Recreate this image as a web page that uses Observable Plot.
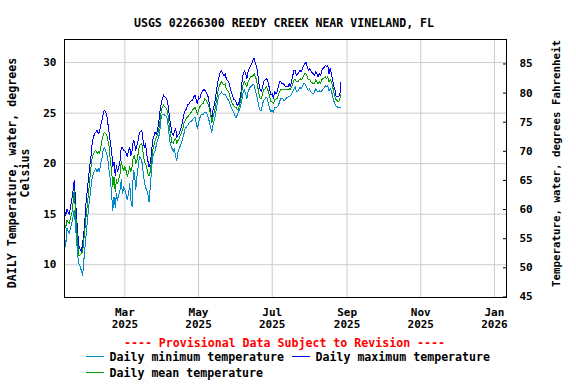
<!DOCTYPE html>
<html><head><meta charset="utf-8">
<script src="https://cdn.jsdelivr.net/npm/d3@7"></script>
<script src="https://cdn.jsdelivr.net/npm/@observablehq/plot@0.6"></script>
<style>
body{margin:0;background:#fff;}
#chart{position:relative;width:576px;height:384px;}
#chart svg{position:absolute;left:0;top:0;}
</style></head><body><div id="chart"></div>
<script>
const title = "USGS 02266300 REEDY CREEK NEAR VINELAND, FL";
const provisionalNote = "---- Provisional Data Subject to Revision ----";
const leftLabel = ["DAILY Temperature, water, degrees", "Celsius"];
const rightLabel = "Temperature, water, degrees Fahrenheit";
const startDate = "2025-01-10";
const xDomain = ["2025-01-10", "2026-01-11"];
const celsiusDomain = [6.76, 32.28];
const fahrenheitDomain = [44.9, 89.2];
const celsiusTicks = [10, 15, 20, 25, 30];
const fahrenheitTicks = [45, 50, 55, 60, 65, 70, 75, 80, 85];
const monthTicks = ["2025-03-01", "2025-05-01", "2025-07-01", "2025-09-01", "2025-11-01", "2026-01-01"];
const seriesNames = ["Daily minimum temperature", "Daily maximum temperature", "Daily mean temperature"];
const seriesColors = ["#0088cc", "#0000ff", "#00a000"];

const dailyMax = [
15.4,14.9,15.5,15.2,15.0,15.7,16.4,17.2,18.3,16.7,14.7,13.1,11.8,11.5,11.3,12.1,13.1,14.7,16.4,17.5,
18.7,19.8,20.8,22.1,22.6,23.0,23.1,23.3,23.0,23.1,23.8,24.3,24.9,25.3,25.1,24.8,23.9,23.0,22.1,21.3,
19.7,20.2,18.8,19.8,19.2,19.7,20.3,21.6,21.6,21.3,21.3,21.0,20.7,21.3,21.6,20.8,21.3,
22.3,22.1,21.3,21.8,22.3,23.1,23.2,23.3,22.3,21.6,22.0,21.0,20.3,19.7,20.0,21.0,22.3,22.7,23.1,22.9,
23.3,24.0,25.1,25.9,26.4,26.8,26.6,26.5,26.3,25.6,24.5,23.8,23.0,22.8,23.1,23.5,22.6,22.8,23.0,23.3,
23.8,24.3,24.9,25.3,25.4,25.9,25.9,26.1,26.2,26.3,26.6,26.8,26.3,25.9,26.6,26.4,26.9,27.1,27.3,
27.3,27.1,26.9,26.6,25.8,25.1,24.3,25.3,25.8,26.4,27.4,28.1,28.6,29.1,29.2,28.9,28.7,28.9,28.4,28.2,
28.1,27.6,27.1,26.8,26.4,26.3,26.1,25.8,25.8,26.3,26.9,28.1,28.9,29.2,28.9,28.4,29.1,29.4,29.7,29.9,
30.2,30.4,29.9,29.7,28.9,27.9,27.3,27.1,27.6,28.1,28.3,28.4,28.3,27.8,27.3,26.8,26.9,26.4,27.1,
26.9,27.1,27.6,28.1,28.1,27.9,27.9,27.8,27.6,27.6,27.6,27.9,27.6,28.1,28.7,29.2,29.2,28.7,28.9,29.0,
29.2,29.1,29.4,29.7,29.9,30.0,29.6,29.2,29.4,29.2,29.0,28.9,28.7,29.1,28.9,28.6,28.9,28.7,29.2,29.4,
29.5,29.7,29.6,29.7,28.9,29.4,28.9,28.3,27.6,27.3,26.6,26.6,26.6,26.8,28.1
];
const dailyMean = [
14.1,13.7,14.4,14.2,14.1,14.7,15.0,16.0,17.4,15.4,13.7,12.1,10.9,11.0,11.1,11.3,12.4,13.7,15.0,16.0,
17.2,18.5,19.7,20.7,21.0,21.2,21.3,21.0,21.2,21.0,21.6,22.3,22.8,23.1,23.0,22.8,22.3,21.6,20.3,19.3,
17.7,18.7,17.2,18.4,18.0,18.5,19.0,20.2,19.7,19.3,19.7,19.3,18.7,19.2,19.7,19.2,19.7,
20.7,20.8,20.0,20.3,21.0,21.8,21.9,22.0,21.2,20.3,20.0,19.7,19.0,18.8,19.2,20.3,21.3,21.8,22.3,22.6,
22.8,23.3,24.1,25.1,25.6,25.8,25.6,25.5,25.3,24.6,23.5,22.8,22.1,22.0,22.3,22.5,22.0,22.3,22.5,22.8,
23.1,23.5,24.0,24.3,24.5,24.6,24.8,24.9,25.1,25.3,25.4,25.6,25.3,24.9,25.3,25.6,25.8,25.9,26.0,
26.4,26.3,26.1,25.9,25.4,24.8,24.1,24.6,25.1,25.6,26.4,27.1,27.6,27.9,28.1,27.9,27.8,27.9,27.4,27.2,
27.1,26.6,26.3,25.9,25.8,25.6,25.6,25.4,25.4,25.8,26.3,27.3,27.9,28.1,27.9,27.6,28.1,28.3,28.6,28.6,
28.7,28.9,28.6,28.3,27.6,26.9,26.4,26.4,26.9,27.3,27.4,27.6,27.4,27.1,26.6,26.1,26.1,25.9,26.3,
26.4,26.4,26.8,27.1,27.3,27.3,27.4,27.3,27.3,27.3,27.3,27.4,27.3,27.6,27.9,28.3,28.3,28.1,28.1,28.2,
28.4,28.3,28.4,28.7,28.9,28.9,28.6,28.3,28.3,28.1,28.0,27.9,27.9,28.3,28.1,27.9,28.1,27.9,28.3,28.4,
28.5,28.6,28.4,28.6,28.1,28.3,28.1,27.6,27.1,26.6,26.3,26.2,26.1,26.4,26.9
];
const dailyMin = [
12.9,11.8,13.6,13.3,13.1,13.7,14.1,14.7,15.4,14.1,12.4,10.8,10.1,9.8,9.4,8.9,10.4,11.8,13.1,14.4,
15.7,16.7,17.7,18.7,19.0,19.3,19.5,19.2,19.5,19.2,20.0,20.5,21.3,21.6,21.3,21.0,20.3,19.2,18.4,17.0,
15.4,16.7,15.7,17.0,16.4,16.9,17.4,18.4,17.0,17.7,17.4,17.0,16.4,17.0,18.0,16.4,15.7,
19.3,19.0,17.4,18.7,19.7,20.7,20.5,20.3,19.3,18.3,17.7,17.4,17.0,16.2,17.7,19.3,20.7,21.0,21.3,21.8,
22.3,22.6,23.3,24.5,24.9,24.9,24.8,24.7,24.5,23.6,22.3,21.8,21.5,21.2,21.5,20.7,20.3,21.2,21.5,21.8,
22.1,22.6,23.0,23.5,23.6,23.8,24.0,24.1,24.2,24.3,24.5,24.6,24.1,23.5,24.0,24.5,24.8,24.9,24.9,
25.1,25.1,24.9,24.6,24.1,23.6,23.1,23.8,24.3,24.8,25.6,26.3,26.8,26.9,27.1,26.9,26.8,26.9,26.6,26.4,
26.3,25.9,25.6,25.3,25.1,24.8,24.5,24.8,25.1,25.4,25.8,26.4,27.1,27.3,26.9,26.4,27.1,27.4,27.6,27.7,
27.8,27.8,27.3,26.8,26.3,25.6,25.3,25.3,25.9,26.3,26.4,26.6,26.4,25.9,25.4,25.1,25.3,25.1,25.6,
25.6,25.6,25.7,26.1,26.4,26.4,26.4,26.2,26.4,26.5,26.6,26.6,26.7,26.9,27.1,27.4,27.6,27.2,27.1,27.3,
27.6,27.4,27.7,27.9,27.9,27.7,27.4,27.2,27.4,27.1,27.0,26.9,27.1,27.4,27.2,27.1,27.2,27.1,27.2,27.4,
27.5,27.7,27.6,27.7,27.2,27.4,27.2,26.7,26.2,25.9,25.7,25.6,25.6,25.5,25.6
];

const start = new Date(startDate);
const rows = dailyMax.map((v, i) => ({date: d3.utcDay.offset(start, i), max: v, mean: dailyMean[i], min: dailyMin[i]}));
const tickDates = monthTicks.map(d => new Date(d));
const font = "'DejaVu Sans Mono', monospace";
const margins = {marginTop: 39, marginBottom: 87, marginLeft: 64, marginRight: 70};
const lineOpts = {x: "date", strokeWidth: 1, clip: true, shapeRendering: "crispEdges"};

const main = Plot.plot({
  width: 576, height: 384, ...margins,
  style: {fontFamily: font, fontWeight: "bold", fontSize: "11px", background: "transparent", color: "#000"},
  x: {type: "utc", domain: xDomain.map(d => new Date(d))},
  y: {domain: celsiusDomain},
  marks: [
    Plot.gridX(tickDates, {stroke: "#cccccc", strokeOpacity: 1}),
    Plot.gridY(celsiusTicks, {stroke: "#cccccc", strokeOpacity: 1}),
    Plot.line(rows, {...lineOpts, y: "min", stroke: seriesColors[0]}),
    Plot.line(rows, {...lineOpts, y: "max", stroke: seriesColors[1]}),
    Plot.line(rows, {...lineOpts, y: "mean", stroke: seriesColors[2]}),
    Plot.frame({stroke: "#000"}),
    Plot.axisY(celsiusTicks, {anchor: "left", tickSize: 0, tickPadding: 8, label: null, fontSize: 11}),
    Plot.axisX(tickDates, {anchor: "bottom", tickSize: 0, tickPadding: 11, label: null,
      tickFormat: d3.utcFormat("%b"), fontSize: 11}),
    Plot.axisX(tickDates, {anchor: "bottom", tickSize: 0, tickPadding: 22.5, label: null,
      tickFormat: d3.utcFormat("%Y"), fontSize: 11})
  ]
});

const right = Plot.plot({
  width: 576, height: 384, ...margins,
  style: {fontFamily: font, fontWeight: "bold", fontSize: "11px", background: "transparent", color: "#000"},
  y: {domain: fahrenheitDomain},
  marks: [
    Plot.axisY(fahrenheitTicks, {anchor: "right", tickSize: -4, tickPadding: 17, label: null, fontSize: 11})
  ]
});

const el = document.getElementById("chart");
el.appendChild(main);
el.appendChild(right);

const svg = d3.select(right);
svg.append("text").attr("x", 284).attr("y", 27).attr("text-anchor", "middle")
  .style("font-size", "11.6px").text(title);

const gl = svg.append("g").attr("transform", "translate(15.5,173) rotate(-90)").style("font-size", "11.6px");
gl.append("text").attr("x", 0).attr("y", 0).attr("text-anchor", "middle").text(leftLabel[0]);
gl.append("text").attr("x", 0).attr("y", 13.8).attr("text-anchor", "middle").text(leftLabel[1]);

svg.append("text").attr("transform", "translate(560,163.5) rotate(-90)").attr("text-anchor", "middle")
  .style("font-size", "10.8px").text(rightLabel);

svg.append("text").attr("x", 284.5).attr("y", 347).attr("text-anchor", "middle")
  .style("font-size", "11.6px").attr("fill", "#ff0000").text(provisionalNote);

const legendItems = [
  {name: seriesNames[0], color: seriesColors[0], x: 86, y: 360.7},
  {name: seriesNames[1], color: seriesColors[1], x: 292, y: 360.7},
  {name: seriesNames[2], color: seriesColors[2], x: 86, y: 376.7}
];
for (const it of legendItems) {
  svg.append("line").attr("x1", it.x).attr("x2", it.x + 18).attr("y1", it.y - 4.5).attr("y2", it.y - 4.5)
    .attr("stroke", it.color).attr("stroke-width", 1).attr("shape-rendering", "crispEdges");
  svg.append("text").attr("x", it.x + 23.5).attr("y", it.y).attr("text-anchor", "start")
    .style("font-size", "11.6px").text(it.name);
}
</script></body></html>
